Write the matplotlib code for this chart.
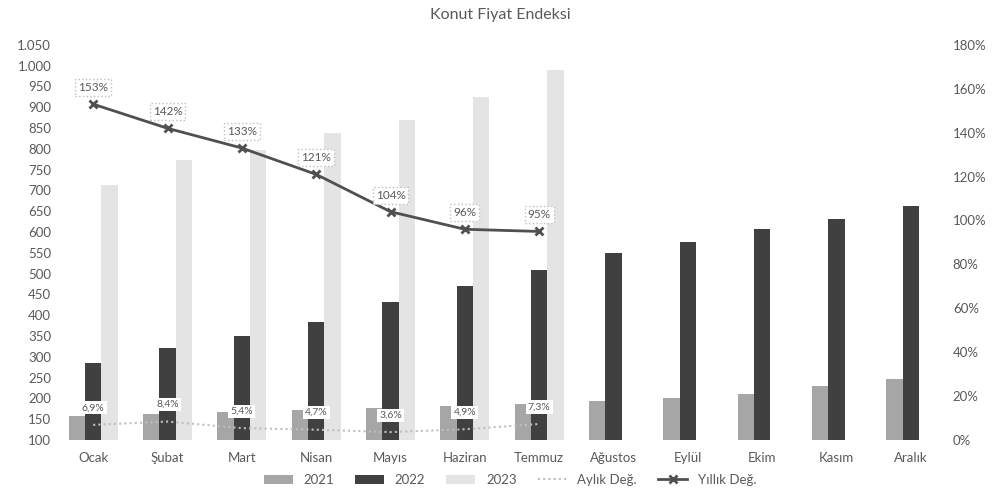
import matplotlib
matplotlib.use("Agg")
import matplotlib.pyplot as plt
import numpy as np
from matplotlib.ticker import FuncFormatter

plt.rcParams["font.family"] = ["Lato", "DejaVu Sans"]

months = ["Ocak", "Şubat", "Mart", "Nisan", "Mayıs", "Haziran", "Temmuz",
          "Ağustos", "Eylül", "Ekim", "Kasım", "Aralık"]
kfe_2021 = [158, 163, 168, 172, 177, 182, 187, 194, 201, 211, 230, 247]
kfe_2022 = [285, 321, 350, 384, 432, 470, 509, 550, 576, 607, 631, 663]
kfe_2023 = [713, 773, 797, 838, 870, 925, 990]
aylik = [6.9, 8.4, 5.4, 4.7, 3.6, 4.9, 7.3]
yillik = [153, 142, 133, 121, 104, 96, 95]

text_color = "#595959"

fig = plt.figure(figsize=(10, 4.97), dpi=100)
ax = fig.add_axes([0.056, 0.1147, 0.892, 0.795])
ax2 = ax.twinx()

x = np.arange(len(months))
x23 = np.arange(len(kfe_2023))
w = 0.22
base = 100
ax.bar(x - w, np.array(kfe_2021) - base, w, bottom=base, color="#a6a6a6", label="2021", zorder=2)
ax.bar(x, np.array(kfe_2022) - base, w, bottom=base, color="#404040", label="2022", zorder=2)
ax.bar(x23 + w, np.array(kfe_2023) - base, w, bottom=base, color="#e4e4e4", label="2023", zorder=2)

ax.set_ylim(100, 1050)
ax.set_yticks(np.arange(100, 1051, 50))
ax.yaxis.set_major_formatter(FuncFormatter(lambda v, p: f"{int(v):,}".replace(",", ".")))
ax.set_xlim(-0.5, len(months) - 0.5)
ax.set_xticks(x)
ax.set_xticklabels(months)

ax2.set_ylim(0, 180)
ax2.set_yticks(np.arange(0, 181, 20))
ax2.yaxis.set_major_formatter(FuncFormatter(lambda v, p: f"{int(v)}%"))

ax2.plot(x23, aylik, color="#bfbfbf", lw=1.5, ls=(0, (1, 1.5)), label="Aylık Değ.", zorder=3)
ax2.plot(x23, yillik, color="#505050", lw=2, marker="x", ms=6, mew=2, label="Yıllık Değ.", zorder=3)

for i, v in enumerate(aylik):
    ax2.annotate(f"{v:.1f}%".replace(".", ","), (x23[i], v), xytext=(0, 9),
                 textcoords="offset points", ha="center", va="bottom", fontsize=7.5,
                 color=text_color, zorder=5,
                 bbox=dict(boxstyle="square,pad=0.2", fc="white", ec="none"))
for i, v in enumerate(yillik):
    ax2.annotate(f"{v}%", (x23[i], v), xytext=(0, 8),
                 textcoords="offset points", ha="center", va="bottom", fontsize=8.5,
                 color=text_color, zorder=5,
                 bbox=dict(boxstyle="square,pad=0.25", fc="white", ec="#bfbfbf", ls=":"))

for a in (ax, ax2):
    for s in a.spines.values():
        s.set_visible(False)
    a.tick_params(length=0, labelsize=9.5, colors=text_color)
ax.tick_params(axis="x", pad=9)
ax.set_zorder(1)
ax2.set_zorder(2)

h1, l1 = ax.get_legend_handles_labels()
h2, l2 = ax2.get_legend_handles_labels()
fig.legend(h1 + h2, l1 + l2, loc="center", bbox_to_anchor=(0.51, 0.034), ncol=5,
           frameon=False, fontsize=9.5, labelcolor=text_color, handlelength=2.2,
           columnspacing=1.6)

fig.text(0.5, 0.97, "Konut Fiyat Endeksi", ha="center", va="center", fontsize=11.5,
         color=text_color)

fig.savefig("out.png", dpi=100)
